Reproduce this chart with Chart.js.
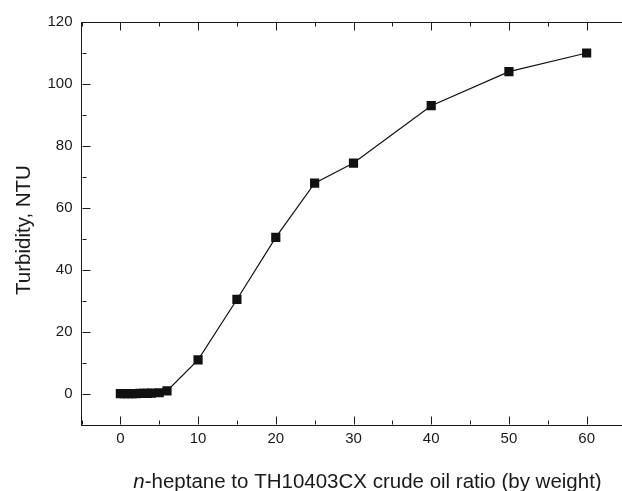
<!DOCTYPE html>
<html>
<head>
<meta charset="utf-8">
<script src="https://cdn.jsdelivr.net/npm/chart.js@4/dist/chart.umd.min.js"></script>
<style>
html,body{margin:0;padding:0;background:#fff;overflow:hidden;width:622px;height:491px;}
#wrap{position:relative;width:632px;height:491px;}
</style>
</head>
<body>
<div id="wrap"><canvas id="c" width="632" height="491"></canvas></div>
<script>
const ratios = [0, 0.5, 1, 1.5, 2, 2.5, 3, 3.5, 4, 5, 6, 10, 15, 20, 25, 30, 40, 50, 60];
const turbidity = [0.1, 0.1, 0.1, 0.1, 0.1, 0.2, 0.2, 0.2, 0.3, 0.4, 1.0, 11, 30.5, 50.5, 68, 74.5, 93, 104, 110];
const xTicks = [0, 10, 20, 30, 40, 50, 60];
const xMinor = [-5, 5, 15, 25, 35, 45, 55, 65];
const yTicks = [0, 20, 40, 60, 80, 100, 120];
const yMinor = [-10, 10, 30, 50, 70, 90, 110];
const xTitleItalic = 'n';
const xTitleRest = '-heptane to TH10403CX crude oil ratio (by weight)';
const yTitle = 'Turbidity, NTU';

const FONT = '"Liberation Sans", Arial, sans-serif';
const AX = '#1a1a1a';

const tickPlugin = {
  id: 'inTicks',
  afterDraw(chart) {
    const ctx = chart.ctx;
    const x = chart.scales.x, y = chart.scales.y;
    const a = chart.chartArea;
    ctx.save();
    ctx.strokeStyle = AX;
    ctx.lineWidth = 1;
    ctx.beginPath();
    const bx = Math.round(a.bottom) - 0.5, tx = Math.round(a.top) + 0.5;
    xTicks.forEach(v => { const p = Math.round(x.getPixelForValue(v)) + 0.5;
      ctx.moveTo(p, bx); ctx.lineTo(p, bx - 8);
      ctx.moveTo(p, tx); ctx.lineTo(p, tx + 8); });
    xMinor.forEach(v => { const p = Math.round(x.getPixelForValue(v)) + 0.5;
      ctx.moveTo(p, bx); ctx.lineTo(p, bx - 4);
      ctx.moveTo(p, tx); ctx.lineTo(p, tx + 4); });
    const lx = Math.round(a.left) + 0.5;
    yTicks.forEach(v => { const p = Math.round(y.getPixelForValue(v)) + 0.5;
      ctx.moveTo(lx, p); ctx.lineTo(lx + 8, p); });
    yMinor.forEach(v => { const p = Math.round(y.getPixelForValue(v)) + 0.5;
      ctx.moveTo(lx, p); ctx.lineTo(lx + 4, p); });
    ctx.stroke();
    // axis titles
    ctx.fillStyle = '#1a1a1a';
    ctx.textBaseline = 'alphabetic';
    const fs = 20.5;
    ctx.font = 'italic ' + fs + 'px ' + FONT;
    const w1 = ctx.measureText(xTitleItalic).width;
    ctx.font = fs + 'px ' + FONT;
    const w2 = ctx.measureText(xTitleRest).width;
    const cx = 367.5, by = 488;
    let sx = cx - (w1 + w2) / 2;
    ctx.font = 'italic ' + fs + 'px ' + FONT;
    ctx.textAlign = 'left';
    ctx.fillText(xTitleItalic, sx, by);
    ctx.font = fs + 'px ' + FONT;
    ctx.fillText(xTitleRest, sx + w1, by);
    ctx.translate(29.5, 230);
    ctx.rotate(-Math.PI / 2);
    ctx.textAlign = 'center';
    ctx.fillText(yTitle, 0, 0);
    ctx.restore();
  }
};

new Chart(document.getElementById('c'), {
  type: 'line',
  data: {
    datasets: [{
      data: ratios.map((r, i) => ({x: r, y: turbidity[i]})),
      borderColor: '#111',
      borderWidth: 1.2,
      backgroundColor: '#111',
      pointStyle: 'rect',
      pointRadius: 6.5,
      pointBorderWidth: 0,
      pointBackgroundColor: '#111',
      tension: 0,
      fill: false
    }]
  },
  options: {
    responsive: false,
    animation: false,
    events: [],
    layout: {padding: {left: 0, right: 0, top: 22, bottom: 0}},
    plugins: {legend: {display: false}, tooltip: {enabled: false}},
    scales: {
      x: {
        type: 'linear', position: 'bottom', min: -5, max: 65,
        afterBuildTicks: s => { s.ticks = xTicks.map(v => ({value: v})); },
        afterFit: s => { s.height = 66; },
        grid: {display: true, drawOnChartArea: false, drawTicks: false},
        border: {display: true, color: AX, width: 1},
        ticks: {padding: 5, color: '#1a1a1a', font: {family: FONT, size: 15}, maxRotation: 0}
      },
      x2: {
        type: 'linear', position: 'top', min: -5, max: 65,
        afterFit: s => { s.height = 0; },
        grid: {display: true, drawOnChartArea: false, drawTicks: false},
        border: {display: true, color: AX, width: 1},
        ticks: {display: false}
      },
      y: {
        type: 'linear', min: -10, max: 120,
        afterBuildTicks: s => { s.ticks = yTicks.map(v => ({value: v})); },
        afterFit: s => { s.width = 81.5; },
        grid: {display: true, drawOnChartArea: false, drawTicks: false},
        border: {display: true, color: AX, width: 1},
        ticks: {padding: 9, color: '#1a1a1a', font: {family: FONT, size: 15}}
      }
    }
  },
  plugins: [tickPlugin]
});
</script>
</body>
</html>
